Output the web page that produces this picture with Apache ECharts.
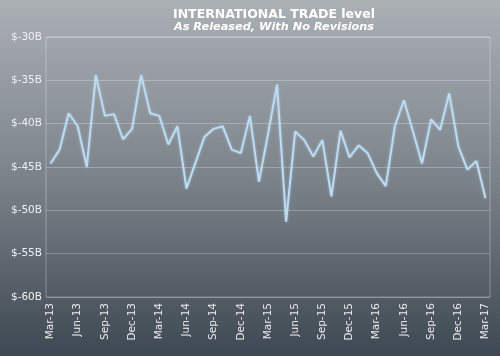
<!DOCTYPE html>
<html><head><meta charset="utf-8">
<script src="https://cdn.jsdelivr.net/npm/echarts@6/dist/echarts.min.js"></script>
<style>html,body{margin:0;padding:0;}#c{width:500px;height:356px;}</style>
</head><body><div id="c"></div>
<script>
const categories = ['Mar-13','Apr-13','May-13','Jun-13','Jul-13','Aug-13','Sep-13','Oct-13','Nov-13','Dec-13','Jan-14','Feb-14',
'Mar-14','Apr-14','May-14','Jun-14','Jul-14','Aug-14','Sep-14','Oct-14','Nov-14','Dec-14','Jan-15','Feb-15',
'Mar-15','Apr-15','May-15','Jun-15','Jul-15','Aug-15','Sep-15','Oct-15','Nov-15','Dec-15','Jan-16','Feb-16',
'Mar-16','Apr-16','May-16','Jun-16','Jul-16','Aug-16','Sep-16','Oct-16','Nov-16','Dec-16','Jan-17','Feb-17','Mar-17'];
const tradeLevel = [-44.6,-43.0,-38.8,-40.3,-45.0,-34.4,-39.1,-38.9,-41.8,-40.6,-34.4,-38.8,
-39.1,-42.4,-40.3,-47.5,-44.5,-41.5,-40.6,-40.3,-43.0,-43.4,-39.1,-46.7,
-41.2,-35.5,-51.3,-40.9,-41.9,-43.8,-41.9,-48.4,-40.8,-43.9,-42.5,-43.4,
-45.7,-47.2,-40.3,-37.3,-40.9,-44.6,-39.5,-40.7,-36.5,-42.6,-45.3,-44.3,-48.6];
const yTicks = [-60,-55,-50,-45,-40,-35,-30];

const font = 'Verdana, "DejaVu Sans", sans-serif';
const chart = echarts.init(document.getElementById('c'));
chart.setOption({
  backgroundColor: new echarts.graphic.LinearGradient(0,0,0,1,[
    {offset:0,color:'#abb0b5'},{offset:0.5,color:'#7b838a'},{offset:1,color:'#3e4852'}]),
  title: {
    text: 'INTERNATIONAL TRADE level',
    subtext: 'As Released, With No Revisions',
    left: 269, top: 3, textAlign: 'center', itemGap: 1,
    textStyle: {color:'#ffffff', fontSize: 12.5, fontWeight:'bold', fontFamily: font},
    subtextStyle: {color:'#ffffff', fontSize: 11.3, fontWeight:'bold', fontStyle:'italic', fontFamily: font}
  },
  grid: {left: 46, right: 10, top: 37, bottom: 59, show: true, borderColor: 'rgba(255,255,255,0.3)', borderWidth: 1},
  xAxis: {
    type: 'category', data: categories, boundaryGap: true,
    axisLine: {show: false}, axisTick: {show: false},
    axisLabel: {interval: 2, rotate: 90, color: '#e8ecef', fontSize: 10.5, fontFamily: font, margin: 6}
  },
  yAxis: {
    type: 'value', min: yTicks[0], max: yTicks[yTicks.length-1], interval: 5,
    axisLine: {show: false}, axisTick: {show: false},
    axisLabel: {color: '#eef1f3', fontSize: 10.5, fontFamily: font, margin: 4, formatter: v => '$' + v + 'B'},
    splitLine: {lineStyle: {color: 'rgba(255,255,255,0.25)', width: 1}}
  },
  series: [{
    type: 'line', data: tradeLevel, symbol: 'none', smooth: false,
    lineStyle: {color: '#bcdcf4', width: 2, shadowColor: 'rgba(200,230,255,0.5)', shadowBlur: 3}
  }],
  animation: false
});
</script></body></html>
